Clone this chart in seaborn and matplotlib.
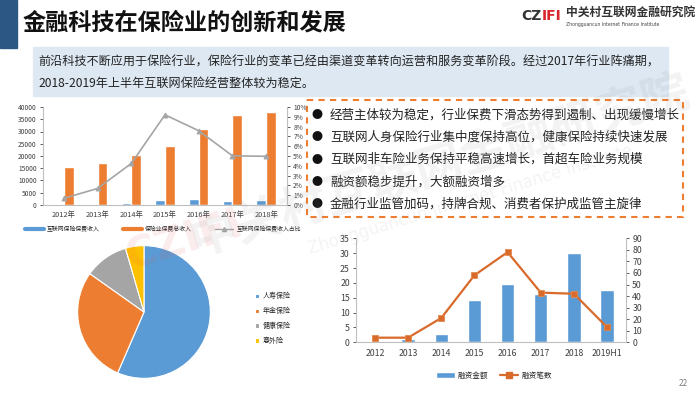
import numpy as np
import pandas as pd
import matplotlib
matplotlib.use("Agg")
import matplotlib.pyplot as plt
from matplotlib.patches import Rectangle, Patch
from matplotlib.lines import Line2D
import seaborn as sns

# ---- data ----
years = ["2012年", "2013年", "2014年", "2015年", "2016年", "2017年", "2018年"]
net_premium = [106, 291, 859, 2234, 2347, 1835, 1889]              # 互联网保险保费收入
total_premium = [15488, 17222, 20235, 24283, 30959, 36581, 38017]  # 保险业保费总收入
net_share = [0.68, 1.69, 4.24, 9.2, 7.58, 5.02, 4.97]              # 占比, %
top_series = ["互联网保险保费收入", "保险业保费总收入", "互联网保险保费收入占比"]

pie_labels = ["人寿保险", "年金保险", "健康保险", "意外险"]
pie_share = [56.5, 28.3, 10.7, 4.5]

fund_years = ["2012", "2013", "2014", "2015", "2016", "2017", "2018", "2019H1"]
fund_amount = [0, 1.0, 2.8, 14.3, 19.5, 16.2, 30.0, 17.7]   # 融资金额
fund_count = [4, 4, 21, 58, 78, 43, 42, 13]                  # 融资笔数

title = "金融科技在保险业的创新和发展"
intro = ["前沿科技不断应用于保险行业，保险行业的变革已经由渠道变革转向运营和服务变革阶段。经过2017年行业阵痛期，",
         "2018-2019年上半年互联网保险经营整体较为稳定。"]
bullets = ["经营主体较为稳定，行业保费下滑态势得到遏制、出现缓慢增长",
           "互联网人身保险行业集中度保持高位，健康保险持续快速发展",
           "互联网非车险业务保持平稳高速增长，首超车险业务规模",
           "融资额稳步提升，大额融资增多",
           "金融行业监管加码，持牌合规、消费者保护成监管主旋律"]

BLUE, ORANGE, GRAY, YELLOW = "#5B9BD5", "#ED7D31", "#A5A5A5", "#FFC000"
LINE_OR = "#D86A2B"
SPINE = "#BFBFBF"
FONT = ["Noto Sans CJK SC", "DejaVu Sans"]

sns.set_style("white")
plt.rcParams["font.family"] = FONT
plt.rcParams["axes.unicode_minus"] = False

W, H = 700, 394
fig = plt.figure(figsize=(7, 3.94), dpi=100)


def box(x0, y0, x1, y1):
    return [x0 / W, 1 - y1 / H, (x1 - x0) / W, (y1 - y0) / H]


def style_axes(ax, size):
    ax.spines["top"].set_visible(False)
    for s in ["left", "right", "bottom"]:
        ax.spines[s].set_color(SPINE)
        ax.spines[s].set_linewidth(0.8)
    ax.tick_params(axis="both", labelsize=size, colors="#404040", length=2.5, width=0.6, pad=2)
    ax.set_xlabel("")
    ax.set_ylabel("")


# ---- background layer (pixel coords) ----
bg = fig.add_axes([0, 0, 1, 1])
bg.set_xlim(0, W)
bg.set_ylim(H, 0)
bg.axis("off")
bg.add_patch(Rectangle((0, 0), 17, 48, color="#2C5684"))
bg.text(23, 23, title, fontsize=16.7, fontweight="bold", va="center", ha="left", color="#111111")
bg.text(521, 16, "CZ", fontsize=10, fontweight="bold", color="#333333", va="center", family="DejaVu Sans")
bg.text(542, 16, "IFI", fontsize=10, fontweight="bold", color="#D9262B", va="center", family="DejaVu Sans")
bg.text(566, 12, "中关村互联网金融研究院", fontsize=8.5, fontweight="bold", color="#333333", va="center")
bg.text(566, 24, "Zhongguancun Internet Finance Institute", fontsize=3.3, color="#444444", va="center",
        family="DejaVu Sans")

bg.add_patch(Rectangle((33, 47), 635, 49, color="#DDE8F3"))
bg.text(38, 62, intro[0], fontsize=8.7, va="center", color="#222222")
bg.text(38, 83, intro[1], fontsize=8.7, va="center", color="#222222")

bg.add_patch(Rectangle((307, 100), 376, 117, fill=False, edgecolor=ORANGE, linewidth=1.5,
                       linestyle=(0, (3, 2.5))))
for i, b in enumerate(bullets):
    yy = 115 + i * 22.3
    bg.text(317, yy, "●", fontsize=8, va="center", ha="center", color="#111111")
    bg.text(330, yy, b, fontsize=9, va="center", color="#222222")

bg.text(683, 383, "22", fontsize=6, color="#808080", ha="center", va="center")

# ---- top-left: premium bars + share line ----
df_top = pd.DataFrame({
    "year": years * 2,
    "value": net_premium + total_premium,
    "series": [top_series[0]] * len(years) + [top_series[1]] * len(years),
})
ax1 = fig.add_axes(box(43, 107, 287, 205))
sns.barplot(data=df_top, x="year", y="value", hue="series", palette=[BLUE, ORANGE],
            width=0.58, saturation=1, ax=ax1, legend=False)
ax1.set_ylim(0, 40000)
ax1.set_yticks(range(0, 40001, 5000))
style_axes(ax1, 4.8)
ax1.spines["right"].set_visible(False)
ax1.tick_params(axis="x", length=0, pad=4, labelsize=5.3)
ax1.set_xticks(np.arange(-0.5, len(years)), minor=True)
ax1.tick_params(axis="x", which="minor", length=2.5, color=SPINE)

ax1r = ax1.twinx()
sns.lineplot(x=np.arange(len(years)), y=net_share, ax=ax1r, color=GRAY, linewidth=1.2,
             marker="^", markersize=3.5, markeredgecolor=GRAY)
ax1r.set_ylim(0, 10)
ax1r.set_yticks(range(0, 11))
ax1r.set_yticklabels([f"{v}%" for v in range(0, 11)])
style_axes(ax1r, 4.8)
ax1r.spines["left"].set_visible(False)
ax1r.spines["bottom"].set_visible(False)

top_handles = [Line2D([], [], color=BLUE, linewidth=3),
               Line2D([], [], color=ORANGE, linewidth=3),
               Line2D([], [], color=GRAY, linewidth=1, marker="^", markersize=3)]
fig.legend(top_handles, top_series, loc="center", bbox_to_anchor=(163 / W, 1 - 229 / H),
           ncol=3, frameon=False, fontsize=4.2, handlelength=3.2, columnspacing=4, handletextpad=0.5)

# ---- bottom-left: pie ----
axp = fig.add_axes(box(77, 245, 211, 379))
wedges, _ = axp.pie(pie_share, colors=[BLUE, ORANGE, GRAY, YELLOW], startangle=90, counterclock=False,
                    wedgeprops=dict(edgecolor="white", linewidth=0.8))
axp.set_xlim(-1.01, 1.01)
axp.set_ylim(-1.01, 1.01)
axp.legend(wedges, pie_labels, loc="upper left", bbox_to_anchor=(249 / W, 1 - 286 / H),
           bbox_transform=fig.transFigure, frameon=False, fontsize=5, handlelength=0.6,
           handleheight=0.6, labelspacing=1.0, handletextpad=0.5)

# ---- bottom-right: funding bars + count line ----
ax2 = fig.add_axes(box(356, 238.3, 626, 342.3))
sns.barplot(x=fund_years, y=fund_amount, color=BLUE, width=0.4, saturation=1, ax=ax2)
ax2.set_ylim(0, 35)
ax2.set_yticks(range(0, 36, 5))
style_axes(ax2, 6.3)
ax2.spines["right"].set_visible(False)
ax2.tick_params(axis="x", length=0, pad=5, labelsize=6.3)
ax2.set_xticks(np.arange(-0.5, len(fund_years)), minor=True)
ax2.tick_params(axis="x", which="minor", length=3, color=SPINE)

ax2r = ax2.twinx()
sns.lineplot(x=np.arange(len(fund_years)), y=fund_count, ax=ax2r, color=LINE_OR, linewidth=1.6,
             marker="s", markersize=4.5, markeredgecolor="#E58A4E", markeredgewidth=0.6)
ax2r.set_ylim(0, 90)
ax2r.set_yticks(range(0, 91, 10))
style_axes(ax2r, 6.3)
ax2r.spines["left"].set_visible(False)
ax2r.spines["bottom"].set_visible(False)

fund_handles = [Patch(facecolor=BLUE),
                Line2D([], [], color=LINE_OR, linewidth=1.6, marker="s", markersize=4.5)]
fig.legend(fund_handles, ["融资金额", "融资笔数"], loc="center", bbox_to_anchor=(494 / W, 1 - 376 / H),
           ncol=2, frameon=False, fontsize=5.5, handlelength=2.4, handleheight=0.8,
           columnspacing=1.5, handletextpad=0.4)

# ---- faint watermark ----
wm = fig.add_axes([0, 0, 1, 1], zorder=10)
wm.set_xlim(0, W)
wm.set_ylim(H, 0)
wm.axis("off")
wm.patch.set_alpha(0)
wm.text(185, 240, "CZIFI", fontsize=30, fontweight="bold", color="#E05050", alpha=0.10,
        rotation=17, ha="center", va="center", family="DejaVu Sans")
wm.text(440, 165, "中关村互联网金融研究院", fontsize=34, fontweight="bold", color="#909090", alpha=0.11,
        rotation=17, ha="center", va="center")
wm.text(470, 200, "Zhongguancun Internet Finance Institute", fontsize=12, color="#909090", alpha=0.10,
        rotation=17, ha="center", va="center", family="DejaVu Sans")

fig.savefig("out.png", dpi=100)
